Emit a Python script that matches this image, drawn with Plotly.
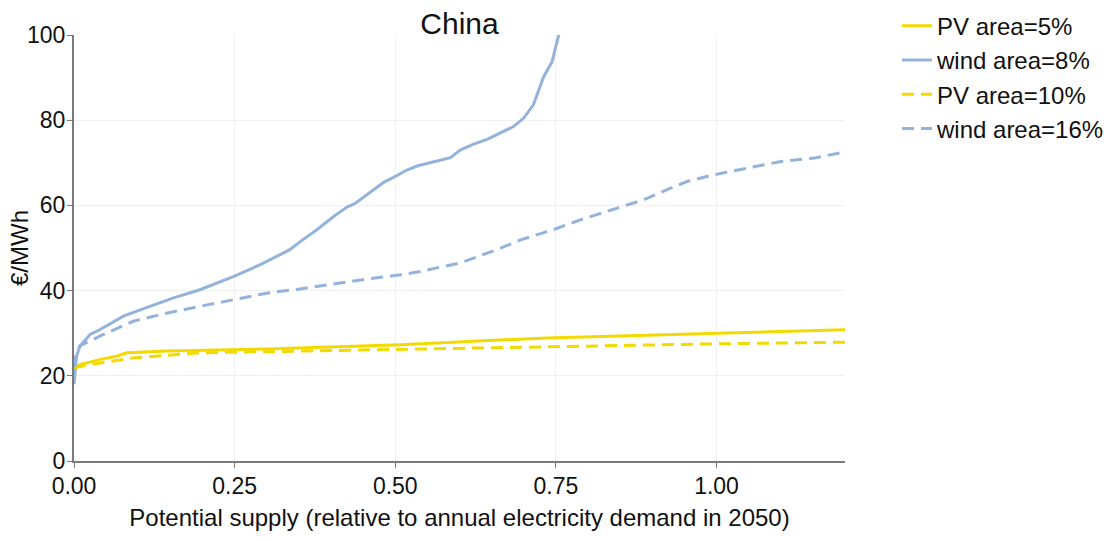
import plotly.graph_objects as go

# Supply-cost curves for China (x: share of 2050 annual demand, y: €/MWh)
pv5_x = [0.0, 0.009, 0.04, 0.066, 0.082, 0.144, 0.30, 0.508, 0.736, 0.996, 1.20]
pv5_y = [21.5, 22.6, 23.8, 24.6, 25.4, 25.8, 26.3, 27.3, 28.9, 29.9, 30.8]

wind8_x = [0.0, 0.002, 0.004, 0.009, 0.025, 0.04, 0.077, 0.118, 0.155, 0.196, 0.248,
           0.29, 0.316, 0.336, 0.352, 0.378, 0.404, 0.425, 0.438, 0.456, 0.482,
           0.505, 0.518, 0.535, 0.56, 0.586, 0.601, 0.622, 0.643, 0.664, 0.684,
           0.70, 0.715, 0.731, 0.744, 0.751, 0.756, 0.76]
wind8_y = [18.0, 21.0, 24.6, 26.9, 29.7, 30.8, 34.0, 36.3, 38.3, 40.2, 43.3,
           46.1, 48.0, 49.6, 51.5, 54.3, 57.4, 59.6, 60.5, 62.5, 65.4,
           67.2, 68.3, 69.3, 70.3, 71.2, 73.0, 74.4, 75.5, 77.1, 78.5,
           80.5, 83.6, 90.2, 93.7, 98.0, 100.4, 103.0]

pv10_x = [0.0, 0.009, 0.04, 0.092, 0.196, 0.30, 0.508, 0.736, 0.996, 1.20]
pv10_y = [21.9, 22.2, 23.0, 24.2, 25.4, 25.7, 26.3, 26.8, 27.5, 27.9]

wind16_x = [0.0, 0.003, 0.009, 0.04, 0.092, 0.144, 0.196, 0.248, 0.30, 0.352,
            0.404, 0.456, 0.508, 0.539, 0.601, 0.658, 0.695, 0.746, 0.788, 0.84,
            0.886, 0.923, 0.954, 0.996, 1.048, 1.10, 1.152, 1.201]
wind16_y = [22.0, 25.0, 27.0, 29.3, 32.8, 34.7, 36.3, 37.9, 39.4, 40.4,
            41.6, 42.7, 43.7, 44.5, 46.5, 49.6, 51.9, 54.3, 56.6, 59.0,
            61.3, 63.7, 65.6, 67.2, 68.7, 70.3, 71.1, 72.6]

x_ticks = [0.0, 0.25, 0.5, 0.75, 1.0]
y_ticks = [0, 20, 40, 60, 80, 100]

YELLOW = "#F2DA00"
BLUE = "#93B3DC"
DASH = "12px,7px"
FONT = "Liberation Sans, Arial, sans-serif"

fig = go.Figure()
fig.add_trace(go.Scatter(x=pv5_x, y=pv5_y, mode="lines", name="PV area=5%",
                         line=dict(color=YELLOW, width=3)))
fig.add_trace(go.Scatter(x=wind8_x, y=wind8_y, mode="lines", name="wind area=8%",
                         line=dict(color=BLUE, width=3)))
fig.add_trace(go.Scatter(x=pv10_x, y=pv10_y, mode="lines", name="PV area=10%",
                         line=dict(color=YELLOW, width=3, dash=DASH)))
fig.add_trace(go.Scatter(x=wind16_x, y=wind16_y, mode="lines", name="wind area=16%",
                         line=dict(color=BLUE, width=3, dash=DASH)))

axis_common = dict(
    automargin=False,
    showline=True, linecolor="#7a7a7a", linewidth=2,
    ticks="outside", ticklen=5, tickcolor="#7a7a7a", tickwidth=1,
    showgrid=True, gridcolor="#f0f0f0", gridwidth=1,
    zeroline=False, tickfont=dict(size=23, color="#111"),
    title_font=dict(size=24, color="#111"),
)

fig.update_layout(
    width=1114, height=541,
    margin=dict(l=74, r=269, t=35, b=80, autoexpand=False),
    paper_bgcolor="white", plot_bgcolor="white",
    font=dict(family=FONT, color="#111"),
    title=dict(text="China", x=(74 + 845) / 2 / 1114, xanchor="center",
               y=1 - 23 / 541, yanchor="middle", font=dict(size=30, color="#111")),
    xaxis=dict(range=[0, 1.2], tickvals=x_ticks, tickformat=".2f",
               ticklabelstandoff=-2,
               title=dict(text="Potential supply (relative to annual electricity demand in 2050)",
                          standoff=12),
               **axis_common),
    yaxis=dict(range=[0, 100], tickvals=y_ticks, ticklabelstandoff=-3,
               **axis_common),
    annotations=[dict(text="€/MWh", textangle=-90, xref="paper", yref="paper",
                      x=-55 / 771, y=0.5, xanchor="center", yanchor="middle",
                      showarrow=False, font=dict(size=24, color="#111"))],
    legend=dict(xref="container", yref="container", x=897 / 1114, xanchor="left",
                y=1 - 3.7 / 541, yanchor="top",
                font=dict(size=24, color="#111"), bgcolor="rgba(0,0,0,0)",
                tracegroupgap=0),
    showlegend=True,
)

fig.write_html("out.html")
